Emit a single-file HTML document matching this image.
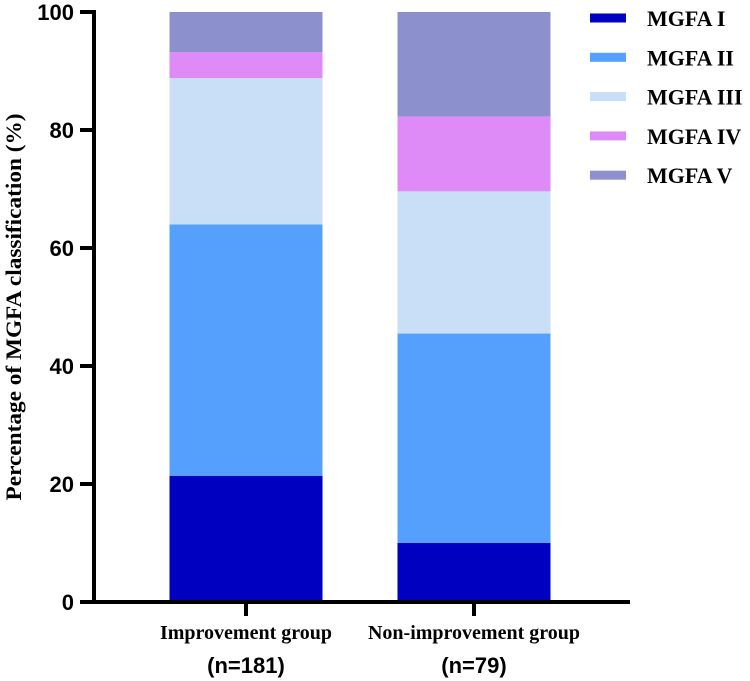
<!DOCTYPE html>
<html><head><meta charset="utf-8"><style>
body{margin:0;background:#fff}
svg{display:block}
</style></head><body>
<svg id="chart" width="750" height="681" viewBox="0 0 750 681"></svg>
<script>
const categories = ["Improvement group", "Non-improvement group"];
const sampleLabels = ["(n=181)", "(n=79)"];
const seriesNames = ["MGFA I", "MGFA II", "MGFA III", "MGFA IV", "MGFA V"];
const mgfa1 = [21.4, 10.0];
const mgfa2 = [42.6, 35.5];
const mgfa3 = [24.8, 24.1];
const mgfa4 = [4.4, 12.7];
const mgfa5 = [6.8, 17.7];
const yTicks = [0, 20, 40, 60, 80, 100];
const colors = ["#0000c0", "#55a0fc", "#c9dff7", "#de8af7", "#8c90cd"];

const NS = "http://www.w3.org/2000/svg";
const svg = document.getElementById("chart");
const x0 = 94, yBase = 602, yTop = 12;
const y = v => yBase - (v / 100) * (yBase - yTop);
const barW = 153;
const xCenter = i => 246 + i * 228;
function el(tag, attrs, parent) {
  const e = document.createElementNS(NS, tag);
  for (const k in attrs) e.setAttribute(k, attrs[k]);
  (parent || svg).appendChild(e);
  return e;
}
const series = [mgfa1, mgfa2, mgfa3, mgfa4, mgfa5];
categories.forEach((c, i) => {
  let cum = 0;
  series.forEach((s, j) => {
    const r = el("rect", {x: xCenter(i) - barW / 2, y: y(cum + s[i]), width: barW, height: y(cum) - y(cum + s[i]), fill: colors[j]});
    
    
    cum += s[i];
  });
});
const ya = el("line", {x1: x0, y1: yTop - 2, x2: x0, y2: yBase + 2, stroke: "#000", "stroke-width": 4});


const xa = el("line", {x1: x0 - 2, y1: yBase, x2: 630, y2: yBase, stroke: "#000", "stroke-width": 4});


yTicks.forEach(t => {
  const tk = el("line", {x1: x0 - 14, y1: y(t), x2: x0, y2: y(t), stroke: "#000", "stroke-width": 4});
  
  
  const tl = el("text", {x: 74, y: y(t) + 8, "text-anchor": "end", "font-family": "Liberation Sans, sans-serif", "font-weight": "bold", "font-size": 22});
  tl.textContent = t;
  
  
});
categories.forEach((c, i) => {
  const tk = el("line", {x1: xCenter(i), y1: yBase, x2: xCenter(i), y2: yBase + 14, stroke: "#000", "stroke-width": 4});
  
  
  const t1 = el("text", {x: xCenter(i), y: 639, "text-anchor": "middle", "font-family": "Liberation Serif, serif", "font-weight": "bold", "font-size": 20});
  t1.textContent = c;
  
  
  const t2 = el("text", {x: xCenter(i), y: 673, "text-anchor": "middle", "font-family": "Liberation Sans, sans-serif", "font-weight": "bold", "font-size": 22});
  t2.textContent = sampleLabels[i];
  
  
});
const yt = el("text", {x: 0, y: 0, transform: "translate(21,307) rotate(-90)", "text-anchor": "middle", "font-family": "Liberation Serif, serif", "font-weight": "bold", "font-size": 22, textLength: 387, lengthAdjust: "spacingAndGlyphs"});
yt.textContent = "Percentage of MGFA classification (%)";


seriesNames.forEach((n, j) => {
  const cy = 18 + j * 39.3;
  const sw = el("rect", {x: 590, y: cy - 4.5, width: 36, height: 9, fill: colors[j]});
  
  
  const lt = el("text", {x: 647, y: cy + 8, "font-family": "Liberation Serif, serif", "font-weight": "bold", "font-size": 22});
  lt.textContent = n;
  
  
});
</script>
</body></html>
